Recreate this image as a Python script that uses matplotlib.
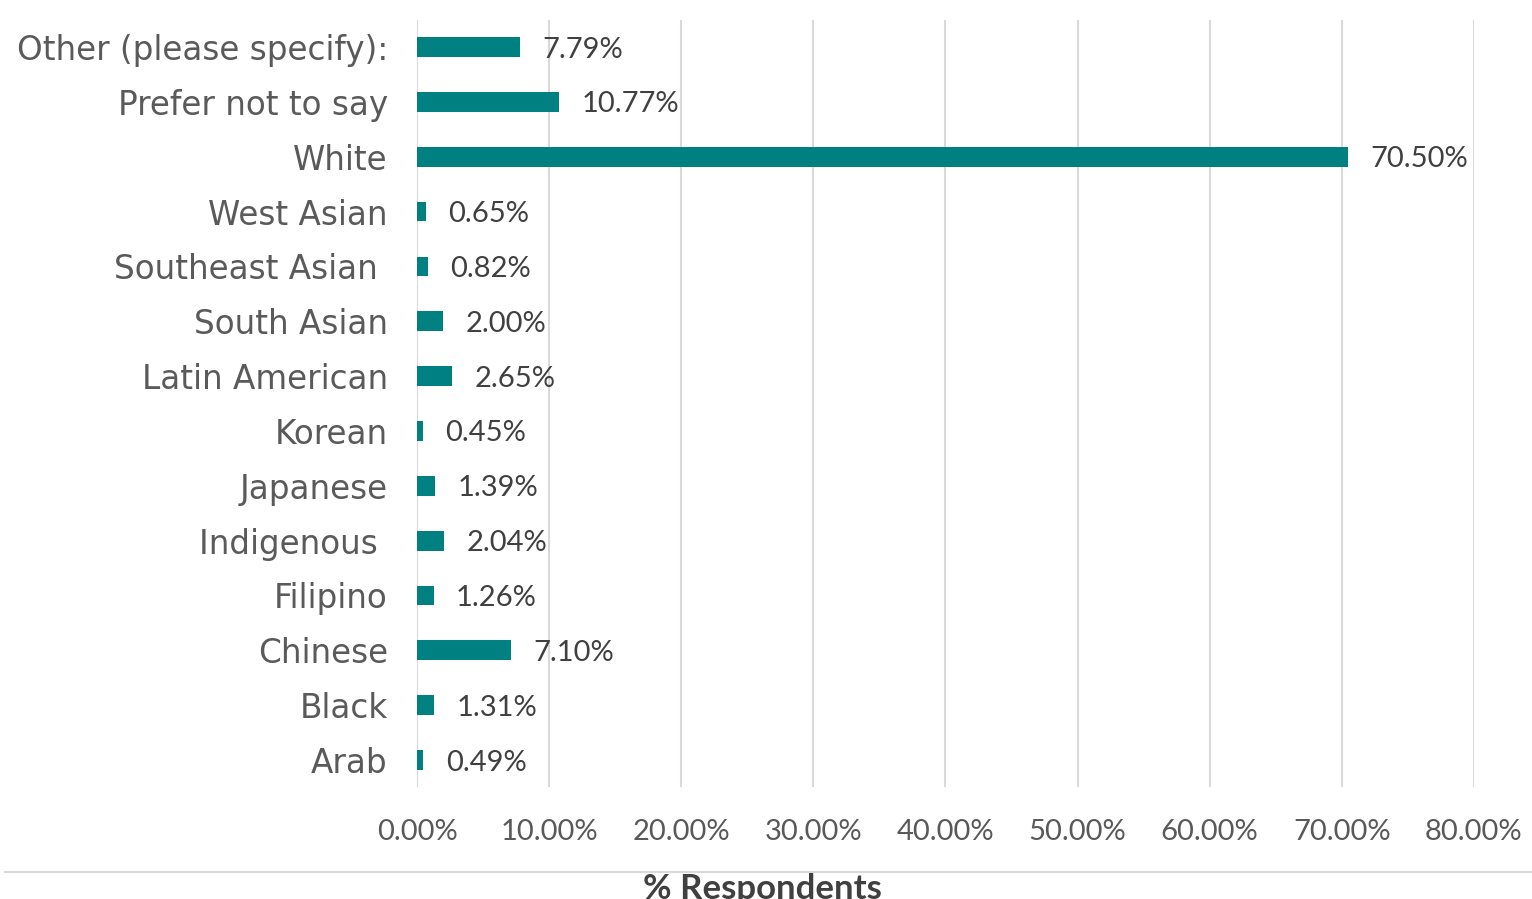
import matplotlib
matplotlib.use("Agg")
import matplotlib.pyplot as plt
from matplotlib.lines import Line2D
from matplotlib.ticker import FuncFormatter, MultipleLocator

categories = [
    "Arab", "Black", "Chinese", "Filipino", "Indigenous ", "Japanese",
    "Korean", "Latin American", "South Asian", "Southeast Asian ",
    "West Asian", "White", "Prefer not to say", "Other (please specify):",
]
percent = [0.49, 1.31, 7.10, 1.26, 2.04, 1.39, 0.45, 2.65, 2.00, 0.82,
           0.65, 70.50, 10.77, 7.79]

TEAL = "#008080"
GRID = "#d9d9d9"
CAT_FONT = ["DejaVu Sans"]
NUM_FONT = ["Lato", "DejaVu Sans"]

fig = plt.figure(figsize=(15.32, 8.99), dpi=100)
ax = fig.add_axes([0.2722, 0.1241, 0.6899, 0.8541])

ys = range(len(categories))
ax.barh(ys, percent, height=0.36, color=TEAL, zorder=3)

for y, v in zip(ys, percent):
    ax.annotate(f"{v:.2f}%", (v, y), xytext=(16, 0), textcoords="offset points",
                ha="left", va="center_baseline", fontsize=21, color="#404040",
                family=NUM_FONT, zorder=4)

ax.set_xlim(0, 80)
ax.set_ylim(-0.5, len(categories) - 0.5)
ax.xaxis.set_major_locator(MultipleLocator(10))
ax.xaxis.set_major_formatter(FuncFormatter(lambda x, _: f"{x:.2f}%"))
ax.grid(axis="x", color=GRID, linewidth=1.5, zorder=0)
ax.set_axisbelow(True)

ax.set_yticks(list(ys))
ax.set_yticklabels(categories, fontsize=23.5, color="#5a5a5a", family=CAT_FONT)
ax.tick_params(axis="y", length=0, pad=21)
ax.tick_params(axis="x", length=0, pad=23, labelsize=21, labelcolor="#595959")
for lbl in ax.get_xticklabels():
    lbl.set_family(NUM_FONT)

for side in ("top", "right", "bottom", "left"):
    ax.spines[side].set_visible(False)

# rule above the axis title, which runs off the lower edge
fig.add_artist(Line2D([0.003, 1.0], [0.030, 0.030], transform=fig.transFigure,
                      color=GRID, linewidth=1.5))
fig.text(0.498, 0.029, "% Respondents", ha="center", va="top", fontsize=25,
         fontweight="bold", color="#404040", family=NUM_FONT)

fig.savefig("out.png", dpi=100, facecolor="white")
